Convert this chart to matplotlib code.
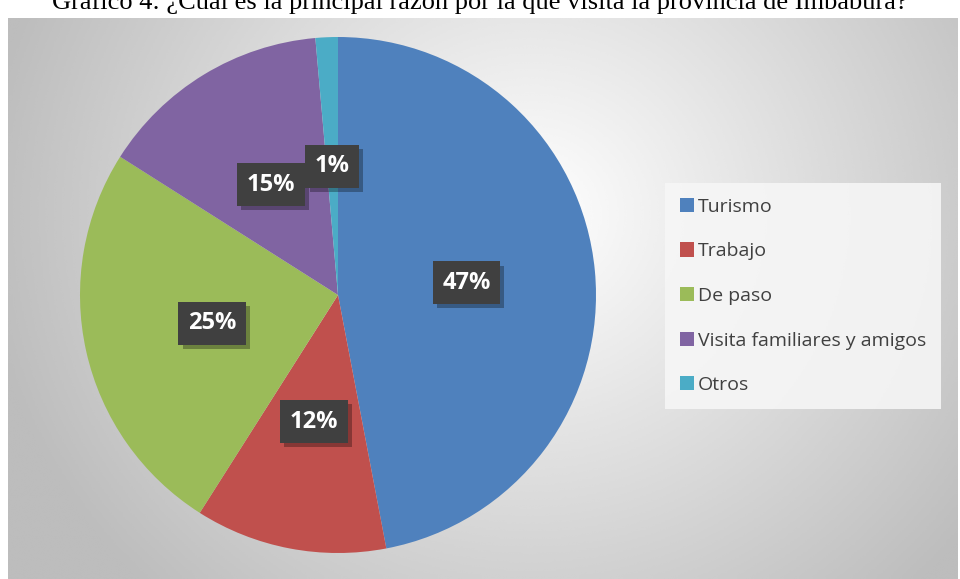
import numpy as np
import matplotlib
matplotlib.use("Agg")
import matplotlib.pyplot as plt
import matplotlib.patheffects as pe

# data
categories = ["Turismo", "Trabajo", "De paso", "Visita familiares y amigos", "Otros"]
shares = [47, 12, 25, 14.6, 1.4]
colors = ["#4F81BD", "#C0504D", "#9BBB59", "#8064A2", "#4BACC6"]
title = "Gráfico 4: ¿Cuál es la principal razón por la que visita la provincia de Imbabura?"

W, H = 960, 579
fig = plt.figure(figsize=(W / 100, H / 100), dpi=100)

# chart area with radial gradient background
bg = fig.add_axes([8 / W, 0, 950 / W, (H - 18) / H])
yy, xx = np.mgrid[0:1:300j, 0:1:500j]
d = np.sqrt(((xx - 0.55) * 1.6) ** 2 + ((yy - 0.65) * 1.0) ** 2)
grad = np.clip(1.0 - 0.28 * d, 0.74, 1.0)
bg.imshow(grad, cmap="gray", vmin=0, vmax=1, extent=[0, 1, 0, 1],
          origin="lower", aspect="auto", interpolation="bicubic")
bg.set_axis_off()

fig.text(0.5, 1 - 3 / H, title, ha="center", va="center",
         family="Liberation Serif", fontsize=19, color="black")

# pie
cx, cy, r = 338, 295, 258
ax = fig.add_axes([(cx - r) / W, (H - cy - r) / H, 2 * r / W, 2 * r / H])
wedges, _, autotexts = ax.pie(
    shares, colors=colors, startangle=90, counterclock=False,
    autopct="%.0f%%", pctdistance=0.5, radius=1,
    wedgeprops=dict(linewidth=0),
)
ax.set_xlim(-1, 1)
ax.set_ylim(-1, 1)
ax.set_aspect("equal")

for t in autotexts:
    t.set_fontsize(17)
    t.set_fontweight("bold")
    t.set_family("Open Sans")
    t.set_color("white")
    t.set_bbox(dict(boxstyle="square,pad=0.4", facecolor="#404040",
                    edgecolor="none"))
    t.get_bbox_patch().set_path_effects([
        pe.SimplePatchShadow(offset=(3, -3), alpha=0.3, shadow_rgbFace="black"),
        pe.Normal(),
    ])

leg = fig.legend(
    wedges, categories, loc="upper left",
    bbox_to_anchor=(665 / W, 1 - 183 / H),
    prop=dict(family="Open Sans", size=14), labelcolor="#404040",
    frameon=True, fancybox=False, handlelength=0.75, handleheight=0.75,
    handletextpad=0.2, labelspacing=1.37, borderpad=0.75, borderaxespad=0,
)
leg.get_frame().set_facecolor("#f6f6f6")
leg.get_frame().set_edgecolor("none")
leg.get_frame().set_alpha(0.9)

fig.savefig("out.png", dpi=100)
